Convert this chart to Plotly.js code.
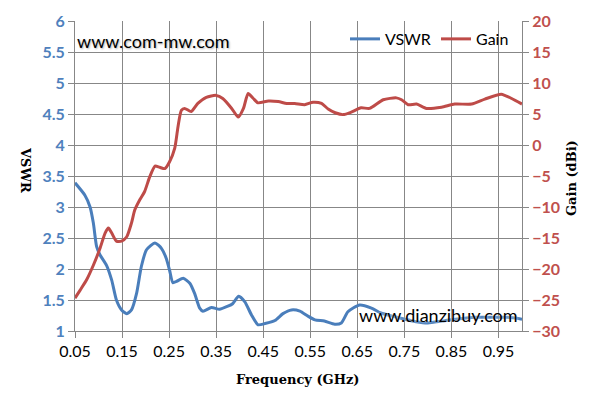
<!DOCTYPE html>
<html>
<head>
<meta charset="utf-8">
<script src="https://cdn.plot.ly/plotly-3.0.1.min.js"></script>
<style>html,body{margin:0;padding:0;background:#fff;}#chart{width:595px;height:415px;}</style>
</head>
<body>
<div id="chart"></div>
<script>
// VSWR series
const freqVswr = [0.05,0.071,0.082,0.089,0.096,0.103,0.117,0.128,0.138,0.149,0.16,0.17,0.181,0.191,0.202,0.22,0.234,0.244,0.251,0.258,0.266,0.28,0.294,0.304,0.315,0.322,0.34,0.357,0.375,0.385,0.398,0.411,0.425,0.439,0.454,0.475,0.492,0.51,0.528,0.545,0.56,0.58,0.602,0.616,0.63,0.655,0.68,0.70,0.73,0.775,0.80,0.83,0.85,0.90,0.93,0.97,1.0];
const vswr = [3.39,3.19,3.0,2.74,2.36,2.23,2.06,1.82,1.50,1.34,1.28,1.34,1.61,2.04,2.31,2.42,2.33,2.17,1.98,1.78,1.80,1.85,1.77,1.61,1.37,1.32,1.38,1.35,1.40,1.44,1.56,1.47,1.26,1.10,1.12,1.17,1.28,1.34,1.32,1.24,1.18,1.16,1.11,1.13,1.31,1.42,1.37,1.29,1.23,1.15,1.13,1.16,1.18,1.22,1.22,1.22,1.19];
// Gain series
const freqGain = [0.05,0.061,0.075,0.089,0.103,0.114,0.121,0.128,0.138,0.149,0.16,0.17,0.177,0.188,0.198,0.209,0.22,0.23,0.241,0.251,0.262,0.269,0.276,0.283,0.297,0.311,0.329,0.35,0.364,0.383,0.397,0.408,0.418,0.429,0.439,0.461,0.482,0.50,0.517,0.538,0.556,0.574,0.588,0.603,0.62,0.637,0.658,0.676,0.705,0.733,0.744,0.758,0.776,0.797,0.829,0.857,0.893,0.921,0.956,0.978,1.0];
const gain = [-24.7,-23.4,-21.7,-19.4,-16.7,-14.2,-13.4,-14.2,-15.5,-15.5,-14.8,-12.6,-10.5,-8.8,-7.5,-5.1,-3.4,-3.6,-3.8,-2.7,-0.5,3.0,5.6,5.9,5.4,6.7,7.7,8.0,7.5,5.9,4.5,5.9,8.3,7.5,6.8,7.1,7.0,6.7,6.7,6.5,6.9,6.7,5.8,5.2,4.9,5.3,6.0,5.9,7.3,7.6,7.3,6.5,6.6,5.9,6.1,6.6,6.6,7.4,8.2,7.5,6.6];
const seriesNames = ["VSWR","Gain"];
const xTitle = "Frequency (GHz)";
const y1Title = "VSWR";
const y2Title = "Gain (dBi)";
const watermarks = ["www.com-mw.com","www.dianzibuy.com"];

const blue = "#4A7EBB", red = "#BE4B48", grid = "#878787";
const tickFont = "Lato, 'Open Sans', sans-serif";
const serif = "'DejaVu Serif', 'Liberation Serif', serif";

const data = [
  {x: freqVswr, y: vswr, name: seriesNames[0], type: "scatter", mode: "lines",
   line: {color: blue, width: 3, shape: "spline", smoothing: 0.6}, yaxis: "y"},
  {x: freqGain, y: gain, name: seriesNames[1], type: "scatter", mode: "lines",
   line: {color: red, width: 3, shape: "spline", smoothing: 0.6}, yaxis: "y2"}
];

const layout = {
  width: 595, height: 415,
  margin: {l: 75, r: 73, t: 21, b: 84, pad: 0, autoexpand: false},
  paper_bgcolor: "#fff", plot_bgcolor: "#fff",
  showlegend: true,
  legend: {orientation: "h", x: 0.604, xanchor: "left", y: 0.942, yanchor: "middle",
    bgcolor: "rgba(255,255,255,0)", font: {family: tickFont, size: 16, color: "#000"},
    entrywidth: 46, entrywidthmode: "pixels", itemwidth: 30, tracegroupgap: 0},
  xaxis: {range: [0.05, 1.0], tick0: 0.05, dtick: 0.1, tickmode: "linear",
    showgrid: true, gridcolor: grid, gridwidth: 1, zeroline: false,
    showline: true, linecolor: grid, linewidth: 1,
    ticks: "outside", ticklen: 6, tickcolor: grid,
    tickfont: {family: tickFont, size: 16, color: "#000"}},
  yaxis: {range: [1, 6], dtick: 0.5, tick0: 1, tickmode: "linear",
    showgrid: true, gridcolor: grid, gridwidth: 1, zeroline: false,
    showline: true, linecolor: grid, linewidth: 1,
    ticks: "outside", ticklen: 6, tickcolor: grid,
    tickfont: {family: tickFont, size: 16, color: "#4F81BD", weight: "bold"}},
  yaxis2: {range: [-30, 20], dtick: 5, tick0: -30, tickmode: "linear",
    overlaying: "y", side: "right", showgrid: false, zeroline: false,
    showline: true, linecolor: grid, linewidth: 1,
    ticks: "outside", ticklen: 6, tickcolor: grid,
    tickfont: {family: tickFont, size: 16, color: "#C0504D", weight: "bold"}},
  annotations: [
    {text: xTitle, xref: "paper", yref: "paper", x: (297.5-75)/447, y: (331-380)/310,
     showarrow: false, xanchor: "center", yanchor: "middle",
     font: {family: serif, size: 13, color: "#000", weight: "bold"}},
    {text: y1Title, xref: "paper", yref: "paper", x: (25-75)/447, y: (331-170)/310,
     showarrow: false, textangle: 90, xanchor: "center", yanchor: "middle",
     font: {family: serif, size: 13, color: "#000", weight: "bold"}},
    {text: y2Title, xref: "paper", yref: "paper", x: (571-75)/447, y: (331-178)/310,
     showarrow: false, textangle: -90, xanchor: "center", yanchor: "middle",
     font: {family: serif, size: 13, color: "#000", weight: "bold"}},
    {text: watermarks[0], xref: "paper", yref: "paper", x: (75-75)/447, y: (331-41)/310,
     showarrow: false, xanchor: "left", yanchor: "middle",
     font: {family: tickFont, size: 18, color: "#000", shadow: "1px 1px 2px rgba(0,0,0,0.3)"}},
    {text: watermarks[1], xref: "paper", yref: "paper", x: (520-75)/447, y: (331-315)/310,
     showarrow: false, xanchor: "right", yanchor: "middle",
     font: {family: tickFont, size: 18, color: "#000", shadow: "0px 0px 3px #fff"}}
  ]
};

Plotly.newPlot("chart", data, layout, {staticPlot: true, displayModeBar: false});
</script>
</body>
</html>
